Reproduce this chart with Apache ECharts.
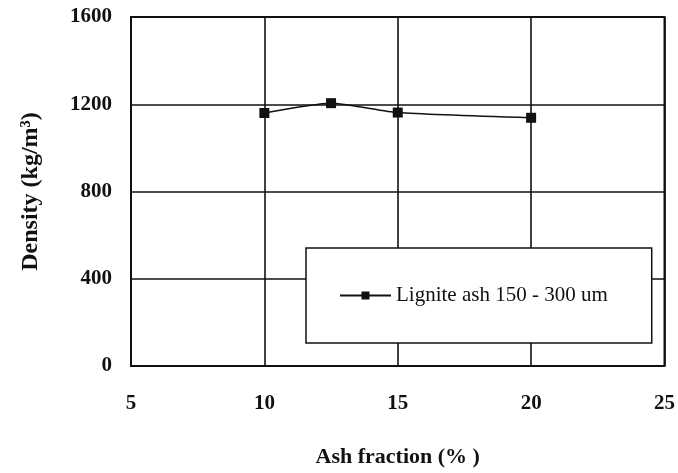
<!DOCTYPE html>
<html>
<head>
<meta charset="utf-8">
<script src="https://cdn.jsdelivr.net/npm/echarts@6/dist/echarts.min.js"></script>
<style>
  html, body { margin: 0; padding: 0; background: #fff; }
  #chart { width: 678px; height: 473px; }
</style>
</head>
<body>
<div id="chart"></div>
<script>
const ash_fraction = [10, 12.5, 15, 20];
const density = [1160, 1205, 1162, 1138];
const x_ticks = [5, 10, 15, 20, 25];
const y_ticks = [0, 400, 800, 1200, 1600];
const series_name = "Lignite ash 150 - 300 um";

const chart = echarts.init(document.getElementById("chart"));
const serif = "'Liberation Serif', 'Times New Roman', serif";

chart.setOption({
  backgroundColor: "#fff",
  animation: false,
  grid: { left: 131, right: 13, top: 17, bottom: 107, show: true, borderColor: "#111", borderWidth: 2 },
  legend: {
    data: [series_name],
    left: 306,
    top: 248,
    padding: [37, 44, 37, 33],
    itemWidth: 51,
    itemHeight: 10,
    itemGap: 6,
    backgroundColor: "#fff",
    borderColor: "#111",
    borderWidth: 1.5,
    textStyle: { fontFamily: serif, fontSize: 21, color: "#111" },
    selectedMode: false,
  },
  xAxis: {
    type: "value",
    min: x_ticks[0],
    max: x_ticks[x_ticks.length - 1],
    interval: 5,
    name: "Ash fraction (% )",
    nameLocation: "middle",
    nameGap: 80,
    nameTextStyle: { fontFamily: serif, fontSize: 22, fontWeight: "bold", color: "#111" },
    axisLine: { show: false },
    axisTick: { show: false },
    axisLabel: { fontFamily: serif, fontSize: 21, fontWeight: "bold", color: "#111", margin: 27 },
    splitLine: { show: true, lineStyle: { color: "#111", width: 1.6 } },
  },
  yAxis: {
    type: "value",
    min: y_ticks[0],
    max: y_ticks[y_ticks.length - 1],
    interval: 400,
    name: "Density (kg/m³)",
    nameLocation: "middle",
    nameGap: 88,
    nameTextStyle: { fontFamily: serif, fontSize: 24, fontWeight: "bold", color: "#111" },
    axisLine: { show: false },
    axisTick: { show: false },
    axisLabel: {
      fontFamily: serif, fontSize: 21, fontWeight: "bold", color: "#111", margin: 19,
      formatter: (v) => String(v),
    },
    splitLine: { show: true, lineStyle: { color: "#111", width: 1.6 } },
  },
  series: [
    {
      name: series_name,
      type: "line",
      data: ash_fraction.map((x, i) => [x, density[i]]),
      smooth: 0.2,
      symbol: "rect",
      symbolSize: 10,
      lineStyle: { color: "#111", width: 1.5 },
      itemStyle: { color: "#111" },
    },
  ],
});
</script>
</body>
</html>
